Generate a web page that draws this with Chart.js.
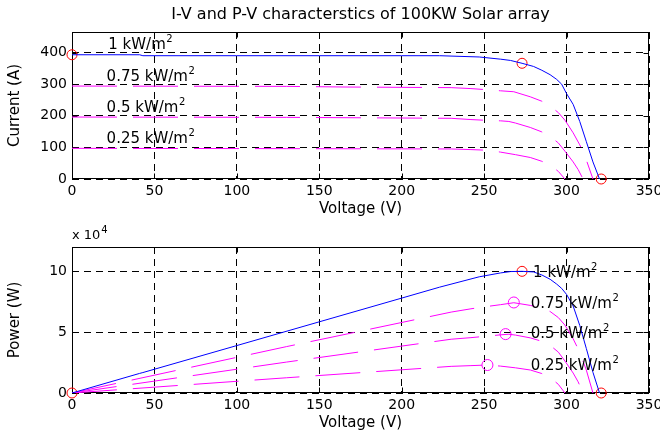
<!DOCTYPE html>
<html>
<head>
<meta charset="utf-8">
<script src="https://cdn.jsdelivr.net/npm/chart.js@4.4.1/dist/chart.umd.min.js"></script>
<style>
  body { margin: 0; background: #fff; }
  .panel { position: absolute; left: 0; }
  canvas { display: block; }
</style>
</head>
<body>
<div class="panel" style="top:0"><canvas id="ivChart" width="660" height="220"></canvas></div>
<div class="panel" style="top:220px"><canvas id="pvChart" width="660" height="214"></canvas></div>
<script>
// curve labels (the "2" is drawn raised as m^2)
const irrLabels = ["1 kW/m", "0.75 kW/m", "0.5 kW/m", "0.25 kW/m"];

// 1 kW/m2
const volt100 = [0, 41, 43, 100, 150, 200, 223, 247, 260, 266, 273, 280, 285, 290, 294, 297, 300, 304, 308, 312, 316, 320];
const amp100 = [393, 393, 390, 390, 390, 390, 390, 386, 379, 375, 366, 356, 344, 330, 315, 300, 270, 236, 182, 118, 54, 0];
const power100 = [0, 1.61, 1.68, 3.9, 5.85, 7.8, 8.7, 9.55, 9.87, 9.98, 10.0, 9.95, 9.7, 9.35, 8.95, 8.6, 8.1, 7.15, 5.55, 3.65, 1.7, 0];
// 0.75 kW/m2
const volt75 = [0, 130, 165, 230, 242, 250, 260, 268, 278, 285, 290, 295, 299, 304, 308, 312, 316];
const amp75 = [294, 293, 291, 289, 286, 283, 279, 276, 260, 246, 231, 210, 186, 146, 108, 60, 0];
const power75 = [0, 3.81, 4.8, 6.65, 6.92, 7.08, 7.26, 7.42, 7.2, 7.0, 6.7, 6.2, 5.58, 4.45, 3.35, 1.88, 0];
// 0.5 kW/m2
const volt50 = [0, 130, 230, 242, 250, 260, 265, 269, 278, 285, 290, 295, 299, 304, 307, 310];
const amp50 = [196, 195, 192, 188, 186, 184, 182, 177, 163, 149, 135, 114, 88, 54, 30, 0];
const power50 = [0, 2.54, 4.42, 4.55, 4.65, 4.78, 4.83, 4.76, 4.53, 4.25, 3.92, 3.36, 2.63, 1.64, 0.92, 0];
// 0.25 kW/m2
const volt25 = [0, 130, 230, 242, 252, 260, 269, 278, 285, 290, 295, 298, 299];
const amp25 = [97, 96, 95, 93, 91, 85, 77, 68, 56, 44, 24, 6, 0];
const power25 = [0, 1.25, 2.19, 2.25, 2.3, 2.21, 2.07, 1.89, 1.6, 1.28, 0.71, 0.18, 0];

// red circles: Isc, MPP, Voc of the 1 kW/m2 curve
const ivMarkVolt = [0, 273, 321];
const ivMarkAmp = [393, 366, 0];
const pvMarkVolt = [0, 273, 321];
const pvMarkPower = [0, 10.0, 0];
// magenta circles: MPP of the lower curves
const mppVolt = [268, 263, 252];
const mppPower = [7.44, 4.84, 2.3];

// axis ticks
const voltTicks = { min: 0, max: 350, step: 50 };
const ampTicks = { min: 0, max: 465, step: 100 };
const powerTicks = { min: 0, max: 12, step: 5 };

const FONT = "DejaVu Sans";
Chart.defaults.font.family = FONT;
Chart.defaults.color = "#000";

const pts = (xs, ys) => xs.map((x, k) => ({ x: x, y: ys[k] }));

function curve(xs, ys, color, dashed) {
  return {
    data: pts(xs, ys),
    showLine: true,
    borderColor: color,
    borderWidth: 1,
    borderDash: dashed ? [45, 16] : [],
    pointRadius: 0,
    tension: 0
  };
}

function marks(xs, ys, color, r) {
  return {
    data: pts(xs, ys),
    showLine: false,
    pointRadius: r,
    pointHoverRadius: r,
    pointBorderWidth: 1,
    pointBorderColor: color,
    pointBackgroundColor: "rgba(0,0,0,0)",
    clip: false
  };
}

//box round the axes with small inward tick marks, like matlab
const boxPlugin = {
  id: "axisBox",
  beforeDatasetsDraw(chart) {
    const { ctx, chartArea: a, scales } = chart;
    const L = Math.round(a.left) + 0.5, R = Math.round(a.right) - 0.5;
    const T = Math.round(a.top) + 0.5, B = Math.round(a.bottom) - 0.5;
    ctx.save();
    ctx.strokeStyle = "#000";
    ctx.lineWidth = 1;
    ctx.setLineDash([]);
    ctx.strokeRect(L, T, R - L, B - T);
    ctx.beginPath();
    scales.x.ticks.forEach(t => {
      const px = Math.round(scales.x.getPixelForValue(t.value)) + 0.5;
      ctx.moveTo(px, B); ctx.lineTo(px, B - 5);
      ctx.moveTo(px, T); ctx.lineTo(px, T + 5);
    });
    scales.y.ticks.forEach(t => {
      const py = Math.round(scales.y.getPixelForValue(t.value)) + 0.5;
      ctx.moveTo(L, py); ctx.lineTo(L + 5, py);
      ctx.moveTo(R, py); ctx.lineTo(R - 5, py);
    });
    ctx.stroke();
    ctx.restore();
  }
};

//irradiance labels with a raised "2", the x 10^4 note and the figure title
const labelPlugin = {
  id: "irrText",
  afterDatasetsDraw(chart, args, opts) {
    const { ctx, scales, chartArea } = chart;
    ctx.save();
    ctx.fillStyle = "#000";
    ctx.textBaseline = "alphabetic";
    ctx.textAlign = "left";
    opts.xs.forEach((xv, k) => {
      const x = scales.x.getPixelForValue(xv);
      const y = scales.y.getPixelForValue(opts.ys[k]);
      ctx.font = "15px '" + FONT + "'";
      ctx.fillText(irrLabels[k], x, y);
      const w = ctx.measureText(irrLabels[k]).width;
      ctx.font = "10px '" + FONT + "'";
      ctx.fillText("2", x + w + 0.5, y - 7);
    });
    if (opts.exponent) {
      const x = chartArea.left, y = chartArea.top - 8;
      ctx.font = "13px '" + FONT + "'";
      ctx.fillText("x 10", x, y);
      const w = ctx.measureText("x 10").width;
      ctx.font = "10px '" + FONT + "'";
      ctx.fillText(opts.exponent, x + w + 1, y - 6);
    }
    if (opts.title) {
      ctx.textAlign = "center";
      ctx.textBaseline = "middle";
      ctx.font = "16px '" + FONT + "'";
      ctx.fillText(opts.title, (chartArea.left + chartArea.right) / 2, 15);
    }
    ctx.restore();
  }
};

function makeScales(yTicks, yTitle) {
  return {
    x: {
      type: "linear",
      min: voltTicks.min,
      max: voltTicks.max,
      ticks: { stepSize: voltTicks.step, padding: 4, font: { size: 14 }, color: "#000" },
      grid: { color: "#000", lineWidth: 1, drawTicks: false },
      border: { display: false, dash: [7, 5] },
      title: { display: true, text: "Voltage (V)", font: { size: 15 }, color: "#000", padding: { top: 0, bottom: 2 } },
      afterFit(s) { s.height = 41; s.paddingLeft = 0; s.paddingRight = 0; }
    },
    y: {
      type: "linear",
      min: yTicks.min,
      max: yTicks.max,
      ticks: { stepSize: yTicks.step, includeBounds: false, padding: 5, font: { size: 14 }, color: "#000" },
      grid: { color: "#000", lineWidth: 1, drawTicks: false },
      border: { display: false, dash: [7, 5] },
      title: { display: true, text: yTitle, font: { size: 15 }, color: "#000", padding: { top: 6, bottom: 0 } },
      afterFit(s) { s.width = 72; s.paddingTop = 0; s.paddingBottom = 0; }
    }
  };
}

// top: I-V
new Chart(document.getElementById("ivChart"), {
  type: "scatter",
  plugins: [boxPlugin, labelPlugin],
  data: {
    datasets: [
      curve(volt100, amp100, "#0000ff", false),
      curve(volt75, amp75, "#ff00ff", true),
      curve(volt50, amp50, "#ff00ff", true),
      curve(volt25, amp25, "#ff00ff", true),
      marks(ivMarkVolt, ivMarkAmp, "#ff0000", 5)
    ]
  },
  options: {
    responsive: false,
    animation: false,
    layout: { padding: { top: 32, right: 11, bottom: 0, left: 0 } },
    scales: makeScales(ampTicks, "Current (A)"),
    plugins: {
      legend: { display: false },
      tooltip: { enabled: false },
      irrText: {
        xs: [22, 21, 21, 21],
        ys: [410, 310, 212, 115],
        title: "I-V and P-V characterstics of 100KW Solar array"
      }
    }
  }
});

// bottom: P-V
new Chart(document.getElementById("pvChart"), {
  type: "scatter",
  plugins: [boxPlugin, labelPlugin],
  data: {
    datasets: [
      curve(volt100, power100, "#0000ff", false),
      curve(volt75, power75, "#ff00ff", true),
      curve(volt50, power50, "#ff00ff", true),
      curve(volt25, power25, "#ff00ff", true),
      marks(pvMarkVolt, pvMarkPower, "#ff0000", 5),
      marks(mppVolt, mppPower, "#ff00ff", 5.5)
    ]
  },
  options: {
    responsive: false,
    animation: false,
    layout: { padding: { top: 27, right: 11, bottom: 0, left: 0 } },
    scales: makeScales(powerTicks, "Power (W)"),
    plugins: {
      legend: { display: false },
      tooltip: { enabled: false },
      irrText: { xs: [279.7, 278.2, 278.2, 278.2], ys: [9.55, 6.96, 4.5, 1.9], exponent: "4" }
    }
  }
});
</script>
</body>
</html>
